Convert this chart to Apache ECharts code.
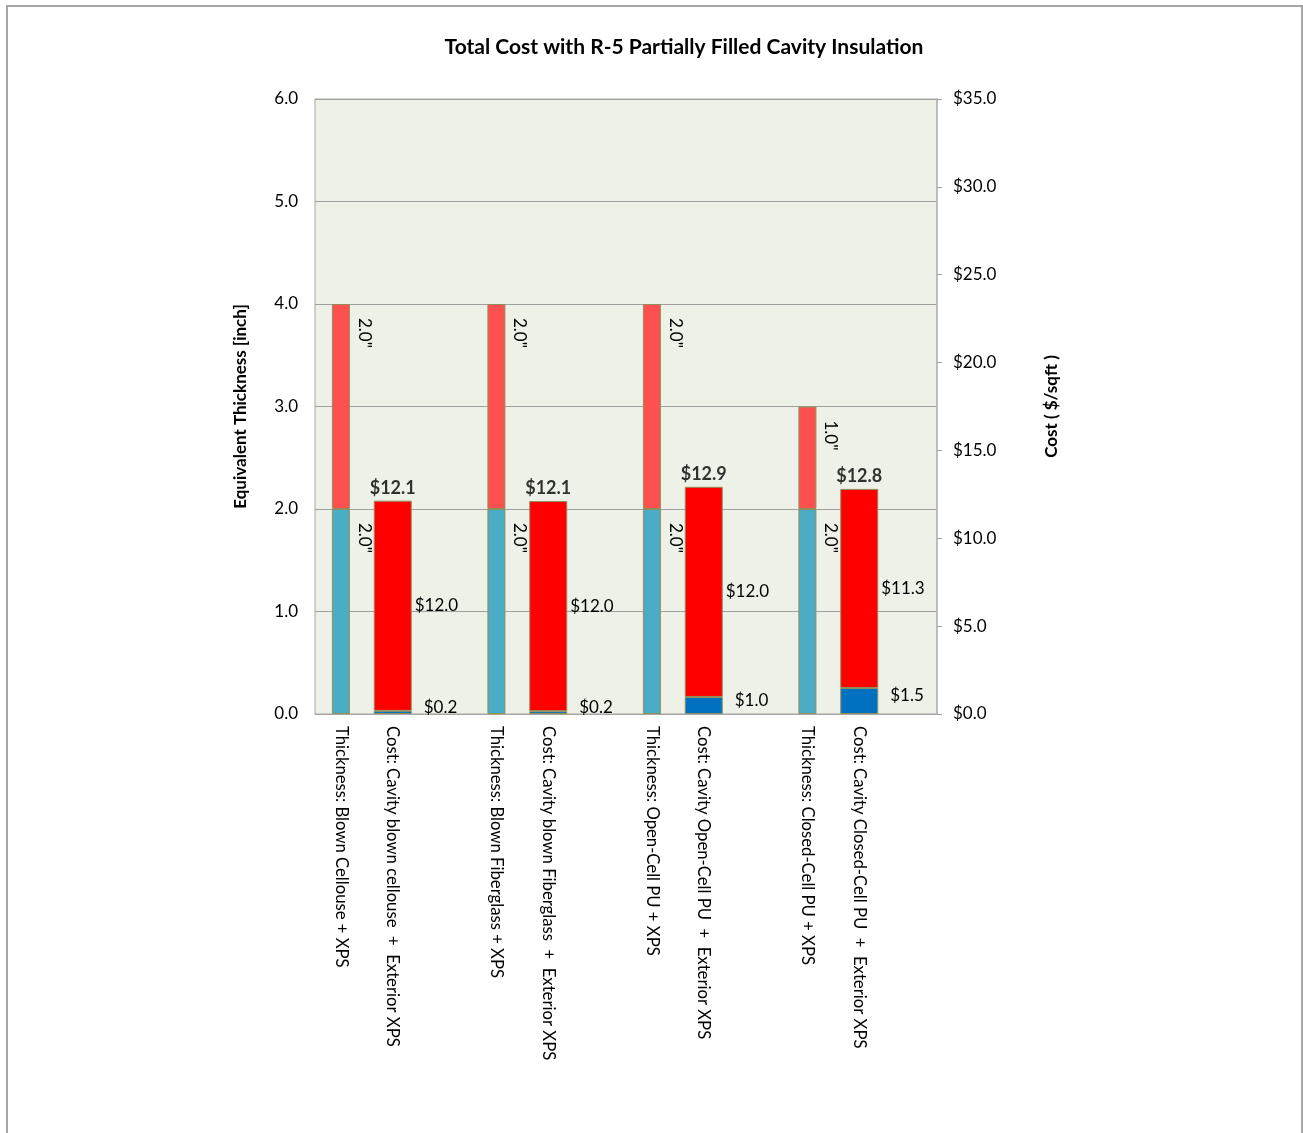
<!DOCTYPE html>
<html>
<head>
<meta charset="utf-8">
<script src="https://cdn.jsdelivr.net/npm/echarts@6/dist/echarts.min.js"></script>
<style>html,body{margin:0;padding:0;background:#fff;}#c{width:1303px;height:1133px;}</style>
</head>
<body>
<div id="c"></div>
<script>
// ---- data ----
const categories = [
  'Thickness: Blown Cellouse + XPS',
  'Cost: Cavity blown cellouse  +  Exterior XPS',
  '',
  'Thickness: Blown Fiberglass + XPS',
  'Cost: Cavity blown Fiberglass  +  Exterior XPS',
  '',
  'Thickness: Open-Cell PU + XPS',
  'Cost: Cavity Open-Cell PU  +  Exterior XPS',
  '',
  'Thickness: Closed-Cell PU + XPS',
  'Cost: Cavity Closed-Cell PU  +  Exterior XPS',
  ''
];
const thicknessSlots = [0, 3, 6, 9];
const costSlots = [1, 4, 7, 10];
const thicknessCavity = [2.0, 2.0, 2.0, 2.0];
const thicknessXPS = [2.0, 2.0, 2.0, 1.0];
const costCavity = [0.18, 0.16, 0.97, 1.48];
const costXPS = [11.96, 11.96, 11.96, 11.33];
const costTotal = [12.1, 12.1, 12.9, 12.8];
const leftTicks = [0, 1, 2, 3, 4, 5, 6];
const rightTicks = [0, 5, 10, 15, 20, 25, 30, 35];

function place(slots, vals) {
  const arr = categories.map(() => '-');
  slots.forEach((s, i) => { arr[s] = vals[i]; });
  return arr;
}

const FONT = 'Lato, "Open Sans", sans-serif';
const border = { borderColor: '#8f8f5c', borderWidth: 1 };

const thickLabel = {
  show: true,
  position: ['100%', 14],
  distance: 0,
  rotate: -90,
  align: 'left',
  verticalAlign: 'bottom',
  offset: [0, -6],
  fontFamily: FONT,
  fontSize: 17,
  color: '#000',
  formatter: p => (typeof p.value === 'number' ? p.value.toFixed(1) + '"' : '')
};

const chart = echarts.init(document.getElementById('c'), null, { renderer: 'canvas' });
chart.setOption({
  animation: false,
  backgroundColor: '#fff',
  title: {
    text: 'Total Cost with R-5 Partially Filled Cavity Insulation',
    left: 679, top: 32, textAlign: 'center',
    textStyle: { fontFamily: FONT, fontSize: 21, fontWeight: 'bold', color: '#000' }
  },
  grid: {
    left: 315, right: 366, top: 99, bottom: 419,
    show: true, backgroundColor: '#eef1e8', borderColor: '#a6a6a6', borderWidth: 1
  },
  xAxis: [
    {
      type: 'category', data: categories, position: 'bottom',
      axisLine: { show: true, lineStyle: { color: '#a6a6a6' } },
      axisTick: { show: false },
      axisLabel: { rotate: -90, interval: 0, margin: 12, fontFamily: FONT, fontSize: 16.7, color: '#000' }
    },
    {
      type: 'category', data: categories, position: 'bottom', show: false
    }
  ],
  yAxis: [
    {
      type: 'value', min: 0, max: 6, interval: 1, position: 'left',
      name: 'Equivalent Thickness [inch]', nameLocation: 'middle', nameRotate: 90, nameGap: 66,
      nameTextStyle: { fontFamily: FONT, fontSize: 17, fontWeight: 'bold', color: '#000' },
      axisLine: { show: false }, axisTick: { show: false },
      axisLabel: { margin: 17, fontFamily: FONT, fontSize: 17, color: '#000', formatter: v => v.toFixed(1) },
      splitLine: { show: true, lineStyle: { color: '#a0a0a0', width: 1 } }
    },
    {
      type: 'value', min: 0, max: 35, interval: 5, position: 'right',
      name: 'Cost ( $/sqft )', nameLocation: 'middle', nameRotate: 90, nameGap: 106,
      nameTextStyle: { fontFamily: FONT, fontSize: 17, fontWeight: 'bold', color: '#000' },
      axisLine: { show: true, lineStyle: { color: '#bcbcbc', width: 2 } },
      axisTick: { show: true, length: 5, lineStyle: { color: '#a0a0a0' } },
      axisLabel: { margin: 16, fontFamily: FONT, fontSize: 17, color: '#000', formatter: v => '$' + v.toFixed(1) },
      splitLine: { show: false }
    }
  ],
  series: [
    {
      name: 'Cavity thickness', type: 'bar', xAxisIndex: 0, yAxisIndex: 0, stack: 't',
      barWidth: 18, data: place(thicknessSlots, thicknessCavity),
      itemStyle: Object.assign({ color: '#4bacc6' }, border), label: thickLabel
    },
    {
      name: 'XPS thickness', type: 'bar', xAxisIndex: 0, yAxisIndex: 0, stack: 't',
      barWidth: 18, data: place(thicknessSlots, thicknessXPS),
      itemStyle: Object.assign({ color: '#ff5050' }, border), label: thickLabel
    },
    {
      name: 'Cavity cost', type: 'bar', xAxisIndex: 1, yAxisIndex: 1, stack: 'c',
      barWidth: 38, data: place(costSlots, costCavity),
      itemStyle: Object.assign({ color: '#0070c0' }, border),
      label: {
        show: true, position: 'right', distance: 12, offset: [0, -5],
        fontFamily: FONT, fontSize: 17, color: '#000',
        formatter: p => (typeof p.value === 'number' ? '$' + p.value.toFixed(1) : '')
      }
    },
    {
      name: 'XPS cost', type: 'bar', xAxisIndex: 1, yAxisIndex: 1, stack: 'c',
      barWidth: 38, data: place(costSlots, costXPS),
      itemStyle: Object.assign({ color: '#ff0000' }, border),
      label: {
        show: true, position: 'right', distance: 3,
        fontFamily: FONT, fontSize: 17, color: '#000',
        formatter: p => (typeof p.value === 'number' ? '$' + p.value.toFixed(1) : '')
      }
    },
    {
      name: 'Total cost', type: 'scatter', xAxisIndex: 1, yAxisIndex: 1,
      symbolSize: 0, silent: true, data: place(costSlots, costTotal),
      label: {
        show: true, position: 'top', distance: 4,
        fontFamily: FONT, fontSize: 18, fontWeight: 'bold', color: '#000',
        formatter: p => (typeof p.value === 'number' ? '$' + p.value.toFixed(1) : '')
      }
    }
  ],
  graphic: [
    { type: 'rect', shape: { x: 7, y: 6, width: 1295, height: 1140 }, style: { fill: 'none', stroke: '#a6a6a6', lineWidth: 2 }, silent: true }
  ]
});
</script>
</body>
</html>
